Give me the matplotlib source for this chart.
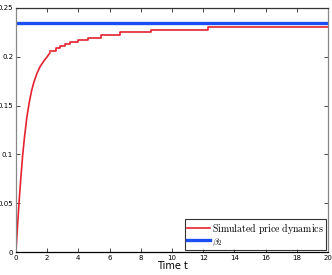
import matplotlib
matplotlib.use("Agg")
import matplotlib.pyplot as plt

# smooth rising part of the simulated price
t_rise = [0, 0.1, 0.2, 0.3, 0.43, 0.55, 0.7, 0.85, 1.0, 1.15, 1.35, 1.55, 1.8, 2.0, 2.18]
p_rise = [0, 0.026, 0.051, 0.073, 0.099, 0.118, 0.138, 0.153, 0.165, 0.174, 0.183, 0.19, 0.196, 0.2, 0.204]

# later part: piecewise constant (jump times and levels)
t_jump = [2.18, 2.54, 2.82, 3.14, 3.46, 3.96, 4.60, 5.45, 6.67, 8.65, 12.3, 20]
p_jump = [0.206, 0.2087, 0.211, 0.2131, 0.2155, 0.2172, 0.2196, 0.2225, 0.2255, 0.2278, 0.2305, 0.2305]

beta2 = 0.2346

x_ticks = [0, 2, 4, 6, 8, 10, 12, 14, 16, 18, 20]
y_ticks = [0, 0.05, 0.1, 0.15, 0.2, 0.25]
y_labels = ["0", "0.05", "0.1", "0.15", "0.2", "0.25"]

plt.rcParams["mathtext.fontset"] = "cm"

fig = plt.figure(figsize=(3.32, 2.75), dpi=100)
ax = fig.add_axes([0.048, 0.0836, 0.94, 0.8874])

red = "#e5222e"
blue = "#1c4ef5"

# red curve: smooth start, then steps
ax.plot(t_rise, p_rise, color=red, lw=1.2)
ax.plot(t_jump, p_jump, color=red, lw=1.2, drawstyle="steps-post")
ax.plot([], [], color=red, lw=1.2, label=r"$\mathrm{Simulated\ price\ dynamics}$")
ax.axhline(beta2, color=blue, lw=2.4, label=r"$\beta_2$")

ax.set_xlim(0, 20)
ax.set_ylim(0, 0.25)
ax.set_xticks(x_ticks)
ax.set_yticks(y_ticks)
ax.set_yticklabels(y_labels)
ax.tick_params(direction="in", top=True, right=True, labelsize=5, length=3, width=0.5, pad=2)
for s in ax.spines.values():
    s.set_linewidth(0.9)
    s.set_color("#333333")
ax.spines["left"].set_color("#888888")
ax.spines["right"].set_color("#888888")
ax.spines["bottom"].set_color("black")

ax.set_xlabel("Time t", fontsize=7, labelpad=0)

leg = ax.legend(loc="lower right", prop={"size": 7.1},
                frameon=True, fancybox=False, edgecolor="black",
                handlelength=2.4, handletextpad=0.2, borderpad=0.15,
                labelspacing=0.0, borderaxespad=0.25)
leg.get_frame().set_linewidth(0.8)

fig.savefig("out.png", dpi=100)
